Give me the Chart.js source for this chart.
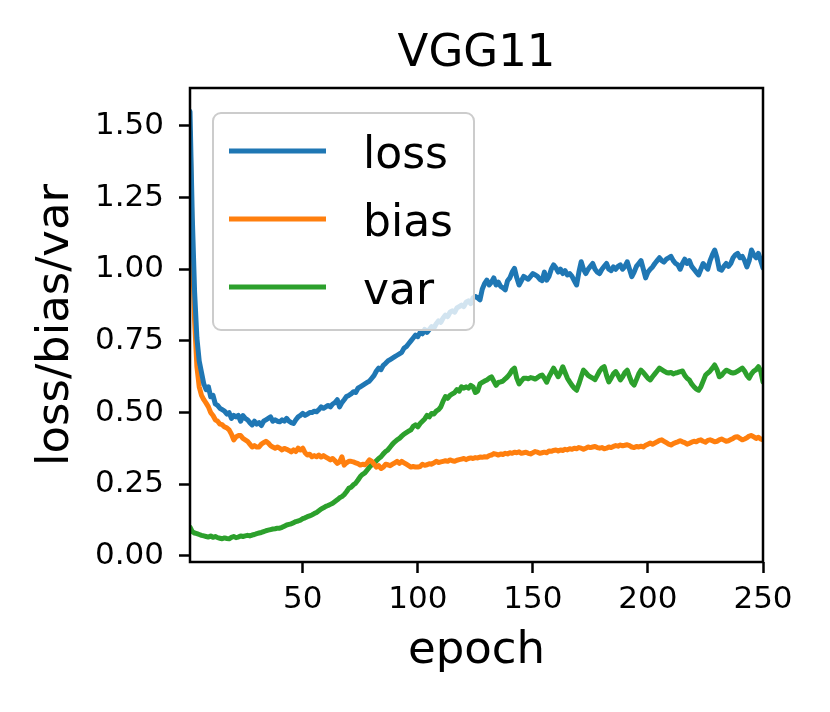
<!DOCTYPE html>
<html>
<head>
<meta charset="utf-8">
<script src="https://cdn.jsdelivr.net/npm/chart.js@4.4.1/dist/chart.umd.min.js"></script>
<style>
  html, body { margin: 0; padding: 0; background: #fff; }
  #wrap { width: 830px; height: 712px; }
</style>
</head>
<body>
<div id="wrap"><canvas id="c" width="830" height="712"></canvas></div>
<script>
const chartTitle = 'VGG11';
const xLabel = 'epoch';
const yLabel = 'loss/bias/var';
const seriesNames = ['loss', 'bias', 'var'];
const xTicks = [50, 100, 150, 200, 250];
const yTicks = [0, 0.25, 0.5, 0.75, 1.0, 1.25, 1.5];

// one value per epoch, 1..250
const loss = [
  1.55, 1.18, 0.92, 0.76, 0.68, 0.64, 0.60, 0.58, 0.59, 0.555,
  0.56, 0.53, 0.525, 0.515, 0.51, 0.505, 0.495, 0.50, 0.48, 0.49,
  0.485, 0.49, 0.47, 0.49, 0.48, 0.475, 0.465, 0.457, 0.47, 0.46,
  0.465, 0.455, 0.47, 0.475, 0.48, 0.485, 0.47, 0.475, 0.47, 0.468,
  0.475, 0.47, 0.48, 0.47, 0.465, 0.462, 0.475, 0.485, 0.49, 0.497,
  0.49, 0.495, 0.50, 0.50, 0.505, 0.503, 0.51, 0.52, 0.515, 0.52,
  0.525, 0.52, 0.53, 0.535, 0.545, 0.52, 0.535, 0.545, 0.556, 0.56,
  0.565, 0.573, 0.57, 0.585, 0.59, 0.595, 0.60, 0.605, 0.61, 0.62,
  0.63, 0.645, 0.655, 0.65, 0.665, 0.672, 0.68, 0.685, 0.69, 0.695,
  0.70, 0.705, 0.71, 0.725, 0.73, 0.74, 0.75, 0.76, 0.77, 0.765,
  0.78, 0.775, 0.79, 0.78, 0.79, 0.80, 0.795, 0.81, 0.82, 0.815,
  0.83, 0.84, 0.835, 0.85, 0.855, 0.85, 0.865, 0.87, 0.875, 0.87,
  0.885, 0.89, 0.88, 0.90, 0.905, 0.90, 0.893, 0.93, 0.95, 0.962,
  0.945, 0.955, 0.97, 0.945, 0.955, 0.94, 0.935, 0.928, 0.96, 0.97,
  0.99, 1.003, 0.97, 0.945, 0.96, 0.975, 0.97, 0.965, 0.975, 0.985,
  0.98, 0.975, 0.965, 0.96, 0.99, 0.962, 0.975, 1.00, 1.015, 1.005,
  0.99, 1.00, 0.985, 0.995, 0.98, 0.985, 0.975, 0.96, 0.945, 0.99,
  1.026, 1.00, 0.985, 1.00, 1.01, 1.02, 1.00, 0.99, 0.985, 1.00,
  1.01, 1.02, 1.00, 0.995, 1.008, 1.00, 1.01, 1.015, 1.00, 1.01,
  1.026, 1.00, 0.974, 0.99, 1.01, 1.02, 1.03, 1.00, 0.97, 0.99,
  1.00, 1.008, 1.02, 1.03, 1.04, 1.03, 1.025, 1.035, 1.04, 1.045,
  1.03, 1.02, 1.015, 1.00, 1.02, 1.035, 1.02, 1.03, 1.01, 1.00,
  0.99, 0.98, 1.00, 1.02, 1.01, 1.00, 1.03, 1.05, 1.067, 1.04,
  1.00, 0.997, 1.01, 1.02, 1.01, 1.02, 1.04, 1.05, 1.055, 1.04,
  1.045, 1.03, 1.008, 1.03, 1.067, 1.05, 1.04, 1.055, 1.03, 1.004
];

const bias = [
  1.48, 1.08, 0.82, 0.66, 0.59, 0.56, 0.545, 0.533, 0.52, 0.50,
  0.49, 0.475, 0.47, 0.46, 0.458, 0.45, 0.447, 0.44, 0.425, 0.405,
  0.415, 0.42, 0.42, 0.41, 0.405, 0.40, 0.39, 0.38, 0.385, 0.38,
  0.38, 0.39, 0.395, 0.40, 0.394, 0.385, 0.38, 0.376, 0.38, 0.376,
  0.37, 0.375, 0.372, 0.368, 0.363, 0.37, 0.364, 0.376, 0.37, 0.376,
  0.36, 0.352, 0.355, 0.346, 0.35, 0.346, 0.352, 0.345, 0.35, 0.345,
  0.34, 0.335, 0.34, 0.332, 0.323, 0.328, 0.346, 0.317, 0.325, 0.33,
  0.33, 0.328, 0.325, 0.322, 0.317, 0.32, 0.318, 0.325, 0.335, 0.33,
  0.32, 0.31, 0.315, 0.305, 0.31, 0.32, 0.318, 0.315, 0.32, 0.325,
  0.33, 0.323, 0.33, 0.325, 0.32, 0.315, 0.31, 0.312, 0.31, 0.31,
  0.312, 0.32, 0.316, 0.318, 0.322, 0.32, 0.325, 0.33, 0.326, 0.328,
  0.33, 0.332, 0.33, 0.335, 0.332, 0.33, 0.334, 0.336, 0.338, 0.34,
  0.336, 0.34, 0.342, 0.34, 0.343, 0.342, 0.345, 0.344, 0.346, 0.345,
  0.35, 0.352, 0.357, 0.355, 0.352, 0.356, 0.354, 0.358, 0.356, 0.36,
  0.358, 0.362, 0.36, 0.363, 0.358, 0.36, 0.362, 0.358, 0.356, 0.36,
  0.364, 0.362, 0.358, 0.36, 0.362, 0.36, 0.366, 0.365, 0.368, 0.37,
  0.366, 0.37, 0.368, 0.372, 0.37, 0.374, 0.372, 0.376, 0.374, 0.378,
  0.376, 0.372, 0.376, 0.38, 0.378, 0.38, 0.382, 0.378, 0.376, 0.378,
  0.374, 0.376, 0.38, 0.378, 0.382, 0.385, 0.383, 0.387, 0.384, 0.386,
  0.388, 0.385, 0.38, 0.378, 0.382, 0.38, 0.383, 0.38, 0.386, 0.39,
  0.394, 0.39, 0.394, 0.398, 0.403, 0.405, 0.40, 0.395, 0.39, 0.387,
  0.392, 0.395, 0.398, 0.402, 0.398, 0.395, 0.39, 0.393, 0.397, 0.40,
  0.398, 0.403, 0.405, 0.40, 0.397, 0.403, 0.405, 0.402, 0.398, 0.40,
  0.405, 0.408, 0.404, 0.40, 0.402, 0.406, 0.41, 0.415, 0.416, 0.41,
  0.405, 0.408, 0.412, 0.418, 0.42, 0.415, 0.41, 0.414, 0.408, 0.405
];

const variance = [
  0.10, 0.085, 0.08, 0.078, 0.075, 0.072, 0.07, 0.068, 0.066, 0.07,
  0.065, 0.068, 0.064, 0.062, 0.06, 0.063, 0.061, 0.06, 0.065, 0.068,
  0.064, 0.066, 0.07, 0.068, 0.07, 0.072, 0.07, 0.073, 0.075, 0.078,
  0.08, 0.082, 0.085, 0.088, 0.09, 0.092, 0.094, 0.095, 0.097, 0.097,
  0.10, 0.104, 0.108, 0.11, 0.112, 0.116, 0.12, 0.122, 0.125, 0.13,
  0.133, 0.137, 0.14, 0.143, 0.148, 0.152, 0.158, 0.164, 0.168, 0.173,
  0.176, 0.18, 0.184, 0.19, 0.196, 0.203, 0.207, 0.214, 0.224, 0.236,
  0.24, 0.248, 0.254, 0.265, 0.277, 0.285, 0.29, 0.30, 0.31, 0.318,
  0.323, 0.332, 0.34, 0.346, 0.356, 0.364, 0.37, 0.38, 0.39, 0.398,
  0.405, 0.41, 0.418, 0.425, 0.43, 0.435, 0.44, 0.452, 0.457, 0.45,
  0.462, 0.47, 0.478, 0.49, 0.485, 0.497, 0.495, 0.505, 0.51, 0.52,
  0.54, 0.556, 0.55, 0.56, 0.565, 0.57, 0.58, 0.575, 0.59, 0.585,
  0.59, 0.585, 0.595, 0.59, 0.57, 0.575, 0.60, 0.605, 0.61, 0.614,
  0.62, 0.625, 0.61, 0.595, 0.605, 0.607, 0.61, 0.618, 0.625, 0.635,
  0.648, 0.655, 0.62, 0.60, 0.61, 0.62, 0.62, 0.618, 0.622, 0.62,
  0.617, 0.622, 0.628, 0.631, 0.62, 0.606, 0.625, 0.64, 0.655, 0.64,
  0.625, 0.64, 0.66, 0.64, 0.62, 0.607, 0.595, 0.585, 0.578, 0.60,
  0.625, 0.648, 0.64, 0.63, 0.625, 0.62, 0.615, 0.63, 0.645, 0.655,
  0.66, 0.63, 0.607, 0.62, 0.635, 0.643, 0.63, 0.614, 0.625, 0.64,
  0.648, 0.625, 0.605, 0.596, 0.615, 0.635, 0.648, 0.64, 0.63, 0.62,
  0.614, 0.625, 0.635, 0.645, 0.655, 0.65, 0.645, 0.64, 0.638, 0.64,
  0.635, 0.638, 0.64, 0.643, 0.645, 0.63, 0.62, 0.614, 0.60, 0.59,
  0.582, 0.578, 0.59, 0.61, 0.63, 0.638, 0.645, 0.655, 0.666, 0.65,
  0.625, 0.63, 0.64, 0.648, 0.645, 0.64, 0.638, 0.64, 0.645, 0.65,
  0.655, 0.645, 0.63, 0.62, 0.635, 0.645, 0.65, 0.66, 0.645, 0.607
];

const epochs = loss.map((v, i) => i + 1);

const colors = ['#1f77b4', '#ff7f0e', '#2ca02c'];
const FONT = 'DejaVu Sans';

function points(values) {
  return epochs.map((e, i) => ({ x: e, y: values[i] }));
}

// black box round the plot area (matplotlib spines)
const frame = {
  id: 'frame',
  afterDatasetsDraw(chart) {
    const { ctx, chartArea: a } = chart;
    ctx.save();
    ctx.strokeStyle = '#000';
    ctx.lineWidth = 2.5;
    ctx.strokeRect(a.left, a.top, a.right - a.left, a.bottom - a.top);
    ctx.restore();
  }
};

// legend box in the upper left of the plot
const boxLegend = {
  id: 'boxLegend',
  afterDatasetsDraw(chart) {
    const { ctx, chartArea: a } = chart;
    const x0 = a.left + 23, y0 = a.top + 25, w = 261, h = 217, r = 8;
    ctx.save();
    ctx.beginPath();
    ctx.moveTo(x0 + r, y0);
    ctx.arcTo(x0 + w, y0, x0 + w, y0 + h, r);
    ctx.arcTo(x0 + w, y0 + h, x0, y0 + h, r);
    ctx.arcTo(x0, y0 + h, x0, y0, r);
    ctx.arcTo(x0, y0, x0 + w, y0, r);
    ctx.closePath();
    ctx.fillStyle = 'rgba(255,255,255,0.8)';
    ctx.fill();
    ctx.strokeStyle = '#cccccc';
    ctx.lineWidth = 2;
    ctx.stroke();

    chart.data.datasets.forEach((ds, i) => {
      const y = y0 + 38 + i * 68;
      ctx.beginPath();
      ctx.moveTo(x0 + 16, y);
      ctx.lineTo(x0 + 113, y);
      ctx.strokeStyle = ds.borderColor;
      ctx.lineWidth = 5;
      ctx.stroke();
      ctx.fillStyle = '#000';
      ctx.font = '44px "' + FONT + '"';
      ctx.textBaseline = 'alphabetic';
      ctx.textAlign = 'left';
      ctx.fillText(ds.label, x0 + 150, y + 17);
    });
    ctx.restore();
  }
};

new Chart(document.getElementById('c'), {
  type: 'line',
  data: {
    datasets: [
      { label: seriesNames[0], data: points(loss), borderColor: colors[0] },
      { label: seriesNames[1], data: points(bias), borderColor: colors[1] },
      { label: seriesNames[2], data: points(variance), borderColor: colors[2] }
    ]
  },
  options: {
    responsive: false,
    animation: false,
    devicePixelRatio: 1,
    layout: { padding: { left: 0, right: 67, top: 0, bottom: 0 } },
    elements: {
      point: { radius: 0 },
      line: { borderWidth: 5, tension: 0, fill: false, borderJoinStyle: 'round', borderCapStyle: 'round' }
    },
    plugins: {
      legend: { display: false },
      tooltip: { enabled: false },
      title: {
        display: true,
        text: chartTitle,
        fullSize: false,
        color: '#000',
        font: { family: FONT, size: 45, weight: 'normal', lineHeight: 1.2 },
        padding: { top: 27, bottom: 7 }
      }
    },
    scales: {
      x: {
        type: 'linear',
        min: 1,
        max: 250,
        afterBuildTicks: s => { s.ticks = xTicks.map(v => ({ value: v })); },
        afterFit: s => { s.height = 150; },
        border: { display: false },
        grid: { drawOnChartArea: false, drawTicks: true, tickLength: 11, tickWidth: 2.5, tickColor: '#000' },
        ticks: { color: '#000', font: { family: FONT, size: 31 }, padding: 8, maxRotation: 0, autoSkip: false },
        title: {
          display: true, text: xLabel, color: '#000',
          font: { family: FONT, size: 45, lineHeight: 1.2 },
          padding: { top: 0, bottom: 34 }
        }
      },
      y: {
        type: 'linear',
        min: -0.021,
        max: 1.632,
        afterBuildTicks: s => { s.ticks = yTicks.map(v => ({ value: v })); },
        afterFit: s => { s.width = 190; },
        border: { display: false },
        grid: { drawOnChartArea: false, drawTicks: true, tickLength: 11, tickWidth: 2.5, tickColor: '#000' },
        ticks: { color: '#000', font: { family: FONT, size: 31 }, padding: 15, callback: v => Number(v).toFixed(2) },
        title: {
          display: true, text: yLabel, color: '#000',
          font: { family: FONT, size: 45, lineHeight: 1.2 },
          padding: { top: 29, bottom: 0 }
        }
      }
    }
  },
  plugins: [frame, boxLegend]
});
</script>
</body>
</html>
